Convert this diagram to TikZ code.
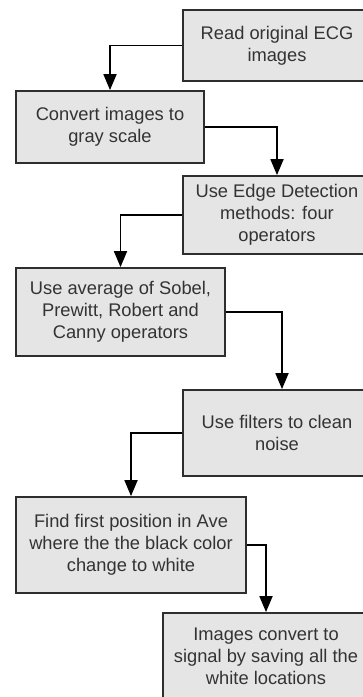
\documentclass[tikz,border=0pt]{standalone}
\usepackage{fontspec}
\setmainfont{Liberation Sans}
\usetikzlibrary{arrows.meta}
\definecolor{boxfill}{HTML}{E5E5E5}
\definecolor{boxline}{HTML}{2E2E2E}
\definecolor{txt}{HTML}{333333}
\tikzset{
  stepbox/.style={draw=boxline, line width=1.8pt, fill=boxfill, text=txt,
    inner sep=0pt, align=center,
    font=\fontsize{18.3}{22}\selectfont},
  flow/.style={line width=1.8pt, draw=black,
    -{Triangle[length=16pt,width=13pt]}}
}
\begin{document}
\begin{tikzpicture}[x=1pt,y=-1pt]
\useasboundingbox (0,0) rectangle (363,697);
\clip (0,0) rectangle (363,697);
\node[stepbox, minimum width=188pt, minimum height=71pt] (b1) at (277,45.5)
  {Read original ECG\\images};
\node[stepbox, minimum width=188pt, minimum height=72pt] (b2) at (110,127)
  {Convert images to\\gray scale};
\node[stepbox, minimum width=188pt, minimum height=78pt] (b3) at (277,215)
  {Use Edge Detection\\methods: four\\operators};
\node[stepbox, minimum width=209pt, minimum height=88pt] (b4) at (120.5,312)
  {Use average of Sobel,\\Prewitt, Robert and\\Canny operators};
\node[stepbox, minimum width=188pt, minimum height=86pt] (b5) at (277,433)
  {Use filters to clean\\noise};
\node[stepbox, minimum width=230pt, minimum height=96pt] (b6) at (131,545)
  {Find first position in Ave\\where the the black color\\change to white};
\node[stepbox, minimum width=206pt, minimum height=86pt] (b7) at (266,656)
  {Images convert to\\signal by saving all the\\white locations};
\draw[flow] (b1.west) -| (b2.north);
\draw[flow] (b2.east) -| (b3.north);
\draw[flow] (b3.west) -| (b4.north);
\draw[flow] (b4.east) -| ([xshift=5pt]b5.north);
\draw[flow] (b5.west) -| (b6.north);
\draw[flow] (b6.east) -| (b7.north);
\end{tikzpicture}
\end{document}
